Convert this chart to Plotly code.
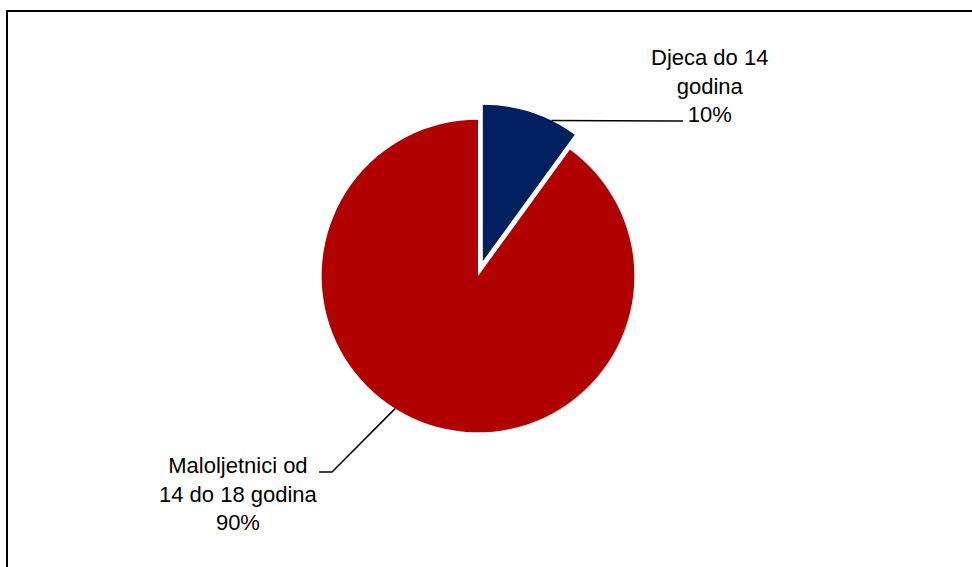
import plotly.graph_objects as go
import math

# ---- data ----
labels = ["Djeca do 14 godina", "Maloljetnici od 14 do 18 godina"]
label_text = ["Djeca do 14<br>godina", "Maloljetnici od<br>14 do 18 godina"]
values = [10, 90]
colors = ["#00205F", "#B00000"]

W, H = 972, 567

def px(x):
    return x / W

def py(y):
    return 1 - y / H

# pie geometry in pixels
cx, cy, R = 478, 276, 172
pull = [0.1, 0]

fig = go.Figure()
fig.add_trace(go.Pie(
    labels=labels,
    values=values,
    marker=dict(colors=colors, line=dict(width=0)),
    sort=False,
    direction="clockwise",
    rotation=0,
    pull=pull,
    textinfo="none",
    hovertemplate="%{label}: %{percent}<extra></extra>",
    showlegend=False,
    domain=dict(x=[px(cx - R), px(cx + R)], y=[py(cy + R), py(cy - R)]),
))

# label positions (pixel centres)
lab_pos = [(709, 86), (238, 494)]
total = sum(values)
annotations = []
for i, (t, v) in enumerate(zip(label_text, values)):
    pct = round(100 * v / total)
    annotations.append(dict(
        x=px(lab_pos[i][0]), y=py(lab_pos[i][1]), xref="paper", yref="paper",
        text=f"{t}<br>{pct}%", showarrow=False, align="center",
        font=dict(family="Liberation Sans, Arial, sans-serif", size=22, color="#000000"),
        xanchor="center", yanchor="middle",
    ))

# leader lines: from slice edge to label
r_eff = R / (1 + max(pull))
shapes = []
cum = 0
mids = []
for v in values:
    mids.append((cum + v / 2) / total)
    cum += v
a = math.radians(26)
off = R - r_eff
mid_a = math.radians(360 * mids[0])
bx = cx + off * math.sin(mid_a) + r_eff * math.sin(a)
by = cy - off * math.cos(mid_a) - r_eff * math.cos(a)
a2 = math.radians(212)
rx = cx + r_eff * math.sin(a2)
ry = cy - r_eff * math.cos(a2)

def path(pts):
    return "M " + " L ".join(f"{px(x)},{py(y)}" for x, y in pts)

shapes.append(dict(type="path", xref="paper", yref="paper",
                   path=path([(bx, by), (672, 121), (683, 121)]),
                   line=dict(color="#000000", width=1.5)))
shapes.append(dict(type="path", xref="paper", yref="paper",
                   path=path([(319, 472), (332, 472), (rx, ry)]),
                   line=dict(color="#000000", width=1.5)))
# chart frame
shapes.append(dict(type="rect", xref="paper", yref="paper",
                   x0=px(7), y0=py(575), x1=px(980), y1=py(11),
                   line=dict(color="#000000", width=2), fillcolor="rgba(0,0,0,0)"))

fig.update_layout(
    width=W, height=H,
    margin=dict(l=0, r=0, t=0, b=0),
    paper_bgcolor="#FFFFFF",
    plot_bgcolor="#FFFFFF",
    annotations=annotations,
    shapes=shapes,
)

fig.write_html("out.html", config={"displayModeBar": False},
               post_script="document.body.style.margin='0';document.body.style.overflow='hidden';")
